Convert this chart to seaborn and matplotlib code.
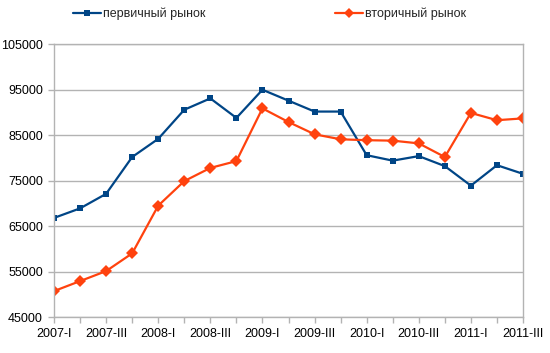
import pandas as pd
import seaborn as sns
import matplotlib
matplotlib.use('Agg')
import matplotlib.pyplot as plt

# квартальные данные, 2007-I ... 2011-III
quarters = ['2007-I', '2007-II', '2007-III', '2007-IV',
            '2008-I', '2008-II', '2008-III', '2008-IV',
            '2009-I', '2009-II', '2009-III', '2009-IV',
            '2010-I', '2010-II', '2010-III', '2010-IV',
            '2011-I', '2011-II', '2011-III']
primary = [66800, 68900, 72100, 80200, 84200, 90600, 93100, 88800, 95000, 92600,
           90200, 90200, 80600, 79400, 80400, 78200, 73900, 78400, 76500]
secondary = [50700, 52900, 55100, 59000, 69500, 74900, 77800, 79300, 90900, 87900,
             85200, 84100, 83900, 83800, 83200, 80200, 89900, 88300, 88700]
name1 = 'первичный рынок'
name2 = 'вторичный рынок'
blue = '#004586'
orange = '#ff420e'

x = list(range(len(quarters)))

sns.set_style('white')
plt.rcParams['font.family'] = ['Liberation Sans', 'DejaVu Sans']

fig = plt.figure(figsize=(5.5, 3.53), dpi=100)
ax = fig.add_axes([54 / 550, 1 - 317 / 353, (523 - 54) / 550, (317 - 44.3) / 353])

sns.lineplot(x=x, y=primary, color=blue, marker='s', markersize=5,
             linewidth=1.6, markeredgewidth=0, ax=ax, label=name1)
sns.lineplot(x=x, y=secondary, color=orange, marker='D', markersize=6,
             linewidth=1.6, markeredgewidth=0, ax=ax, label=name2)

ax.set_xlim(0, len(quarters) - 1)
ax.set_ylim(45000, 105000)
ax.set_yticks(range(45000, 105001, 10000))
ax.set_xticks(x)
ax.set_xticklabels([q if i % 2 == 0 else '' for i, q in enumerate(quarters)])
ax.yaxis.grid(True, color='#b3b3b3', linewidth=1)
ax.set_xlabel('')
ax.set_ylabel('')
for s in ax.spines.values():
    s.set_color('#b3b3b3')
    s.set_linewidth(1)
ax.tick_params(axis='both', length=4, width=1, color='#b3b3b3', labelsize=9,
               labelcolor='black', pad=4, direction='out')
ax.tick_params(axis='x', bottom=True)
ax.tick_params(axis='y', left=True)

handles, labels = ax.get_legend_handles_labels()
ax.get_legend().remove()
fig.legend(handles, labels, loc='center left', bbox_to_anchor=(73 / 550, 1 - 14 / 353),
           ncol=2, frameon=False, fontsize=9, borderpad=0, borderaxespad=0,
           handlelength=2.2, handletextpad=0.2, columnspacing=10.4, markerscale=0.8)

fig.savefig('out.png', dpi=100)
